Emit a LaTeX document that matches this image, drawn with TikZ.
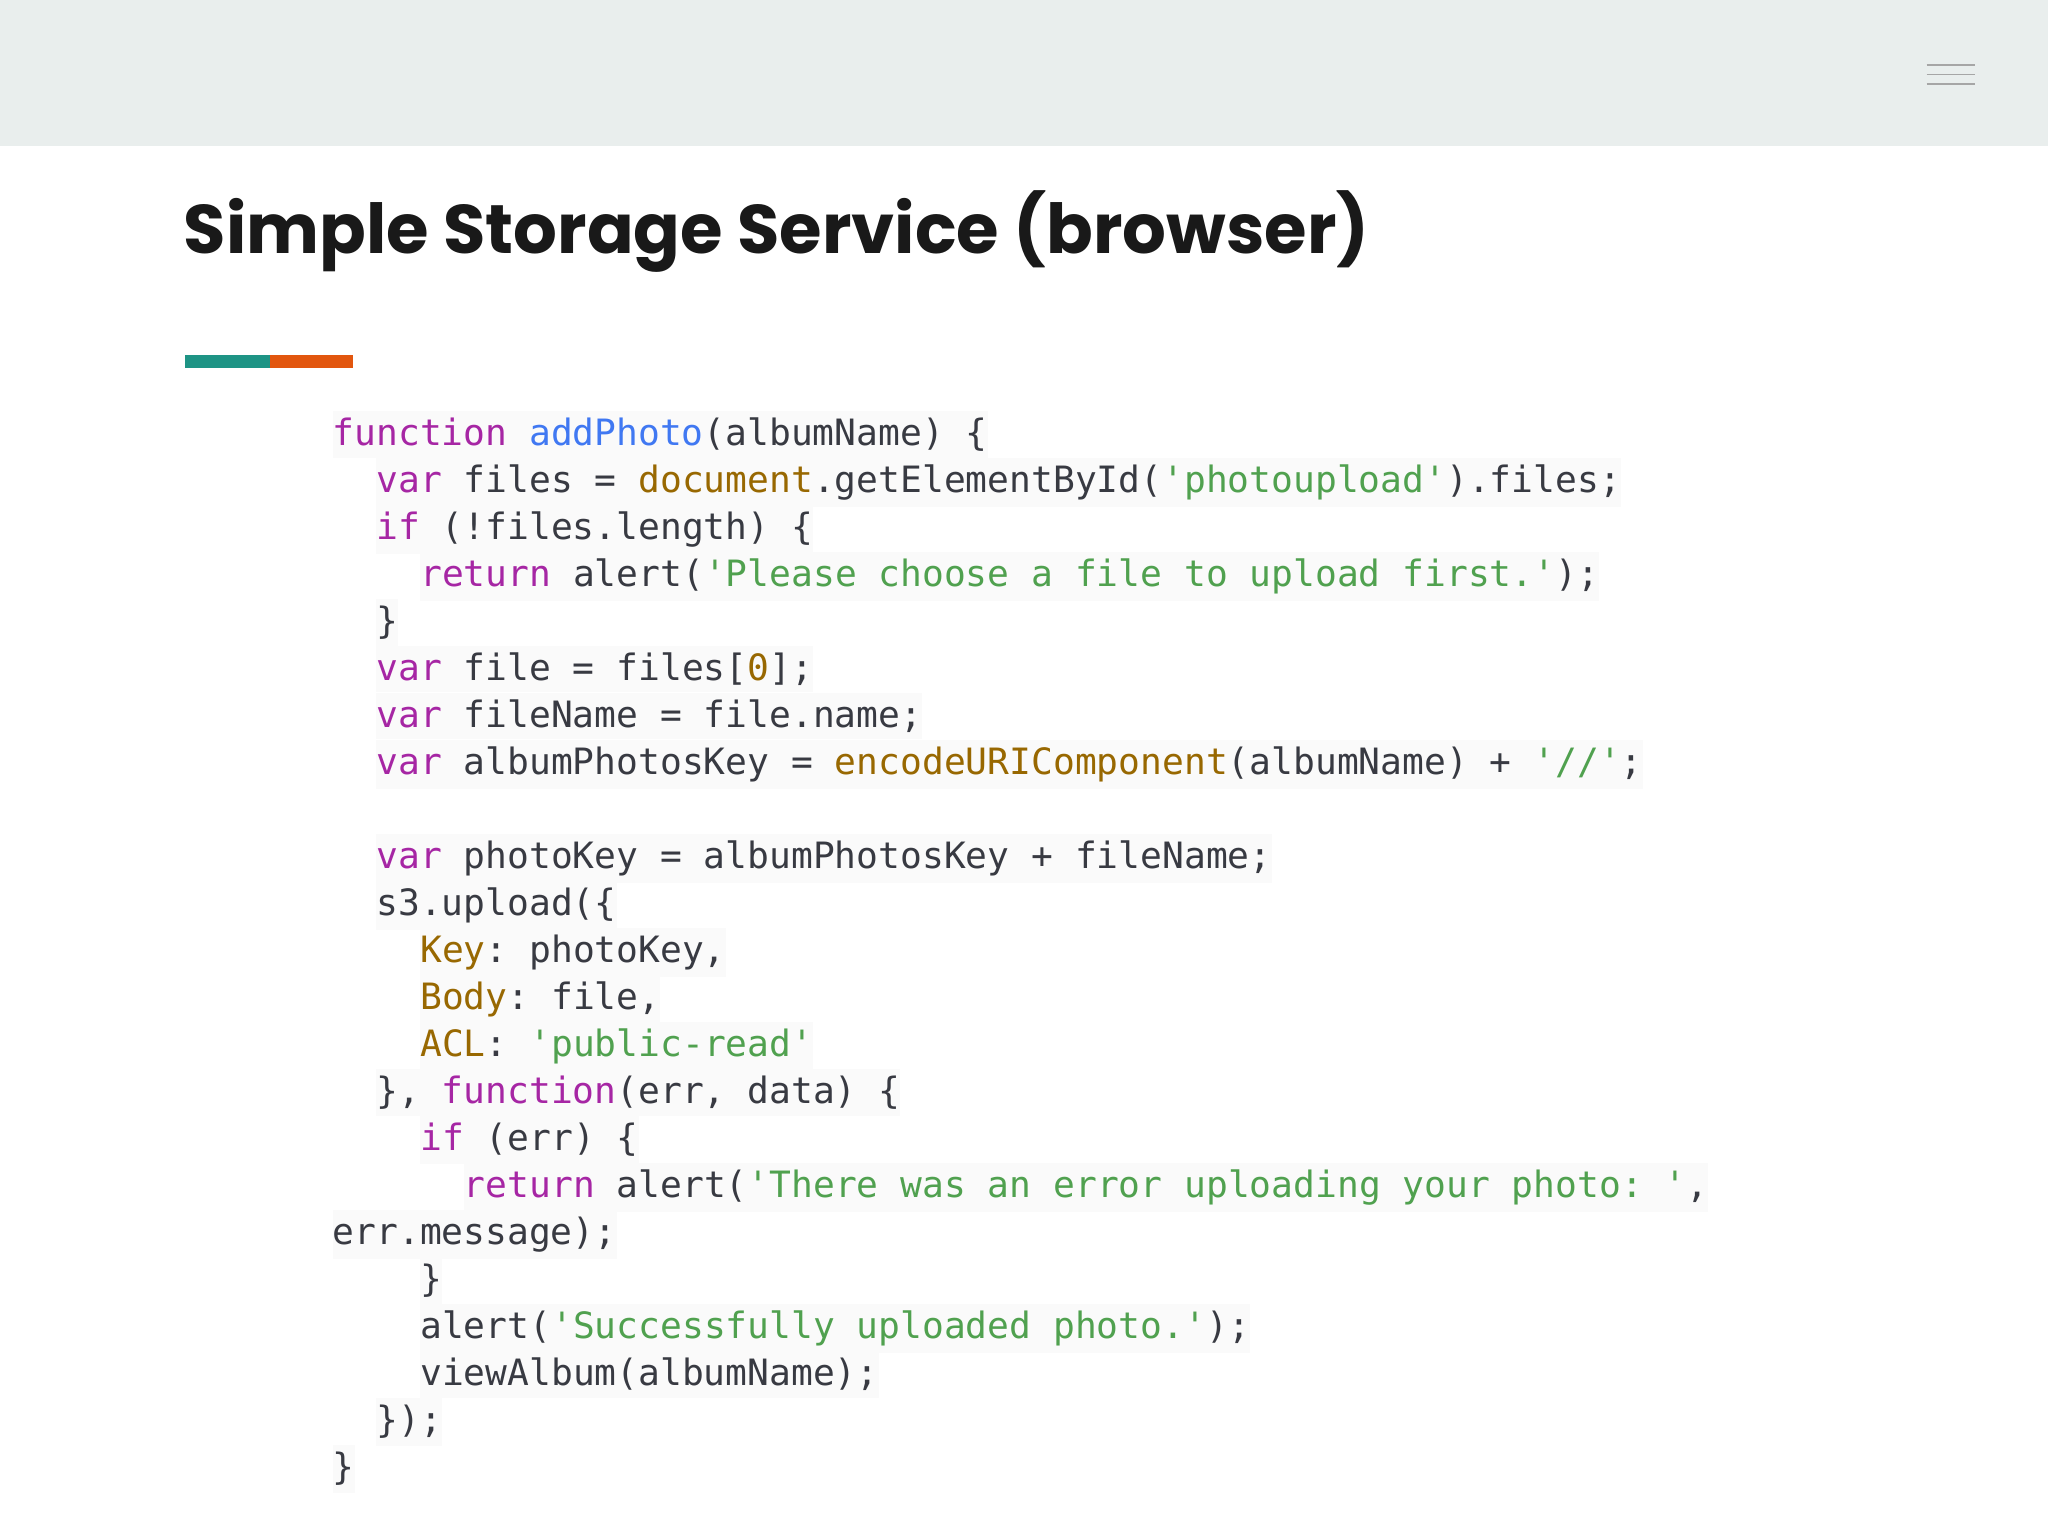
\documentclass[tikz,border=0pt]{standalone}
\usepackage{fontspec}
\newfontfamily\codefont{DejaVu Sans Mono}
\newfontfamily\titlefont{Poppins}
\definecolor{hdr}{HTML}{E9EEED}
\definecolor{kwc}{HTML}{A626A4}
\definecolor{fnc}{HTML}{4078F2}
\definecolor{ylc}{HTML}{986801}
\definecolor{stc}{HTML}{50A14F}
\definecolor{txc}{HTML}{383A42}
\definecolor{teal}{HTML}{1E9485}
\definecolor{org}{HTML}{E2560E}
\newcommand{\kw}[1]{\textcolor{kwc}{#1}}
\newcommand{\fnn}[1]{\textcolor{fnc}{#1}}
\newcommand{\yl}[1]{\textcolor{ylc}{#1}}
\newcommand{\str}[1]{\textcolor{stc}{#1}}
\tikzset{codeline/.style={anchor=base west,inner xsep=0pt,inner ysep=1.5pt,fill=black!2,text=txc,font=\codefont\fontsize{7.9}{10}\selectfont\frenchspacing}}
\newcommand{\cl}[4]{\node[codeline] (#1) at ({254+#3*16.75},-#2) {#4};}
\begin{document}
\begin{tikzpicture}[x=0.1mm,y=0.1mm]
\useasboundingbox (0,0) rectangle (1568,-1176);
\fill[white] (0,0) rectangle (1568,-1176);
\fill[hdr] (0,0) rectangle (1568,-112);
\foreach \yy in {50,57,64} \draw[black!35,line width=0.4pt] (1475,-\yy) -- (1512,-\yy);
\node[anchor=base west,inner sep=0pt,font=\titlefont\bfseries\fontsize{15}{18}\selectfont,text=black!90] (title) at (140,-194) {Simple Storage Service (browser)};
\fill[teal] (142,-272) rectangle (207,-282);
\fill[org] (207,-272) rectangle (270,-282);
\cl{l1}{341}{0}{\kw{function} \fnn{addPhoto}(albumName) \{}
\cl{l2}{377}{2}{\kw{var} files = \yl{document}.getElementById(\str{'photoupload'}).files;}
\cl{l3}{413}{2}{\kw{if} (!files.length) \{}
\cl{l4}{449}{4}{\kw{return} alert(\str{'Please choose a file to upload first.'});}
\cl{l5}{485}{2}{\}}
\cl{l6}{521}{2}{\kw{var} file = files[\yl{0}];}
\cl{l7}{557}{2}{\kw{var} fileName = file.name;}
\cl{l8}{593}{2}{\kw{var} albumPhotosKey = \yl{encodeURIComponent}(albumName) + \str{'//'};}
\cl{l9}{665}{2}{\kw{var} photoKey = albumPhotosKey + fileName;}
\cl{l10}{701}{2}{s3.upload(\{}
\cl{l11}{737}{4}{\yl{Key}: photoKey,}
\cl{l12}{773}{4}{\yl{Body}: file,}
\cl{l13}{809}{4}{\yl{ACL}: \str{'public-read'}}
\cl{l14}{845}{2}{\}, \kw{function}(err, data) \{}
\cl{l15}{881}{4}{\kw{if} (err) \{}
\cl{l16}{917}{6}{\kw{return} alert(\str{'There was an error uploading your photo: '},}
\cl{l17}{953}{0}{err.message);}
\cl{l18}{989}{4}{\}}
\cl{l19}{1025}{4}{alert(\str{'Successfully uploaded photo.'});}
\cl{l20}{1061}{4}{viewAlbum(albumName);}
\cl{l21}{1097}{2}{\});}
\cl{l22}{1133}{0}{\}}
\end{tikzpicture}
\end{document}
